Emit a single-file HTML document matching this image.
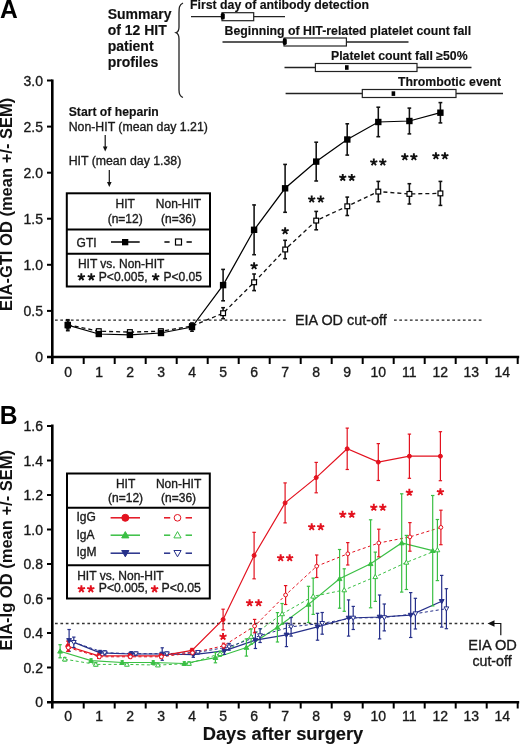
<!DOCTYPE html>
<html><head><meta charset="utf-8"><style>
html,body{margin:0;padding:0;background:#fff;}
svg{display:block;font-family:"Liberation Sans",sans-serif;will-change:transform;}
</style></head><body>
<svg width="520" height="745" viewBox="0 0 520 745" font-family="Liberation Sans, sans-serif">
<rect width="520" height="745" fill="#fff"/>
<text transform="translate(0,17.9) scale(1,1.07)" font-size="24.6" font-weight="bold" fill="#000">A</text>
<text x="107.7" y="18.6" font-size="14" font-weight="bold" text-anchor="start" fill="#111" stroke="#111" stroke-width="0.15" >Summary</text>
<text x="107.7" y="34.6" font-size="14" font-weight="bold" text-anchor="start" fill="#111" stroke="#111" stroke-width="0.15" >of 12 HIT</text>
<text x="107.7" y="50.6" font-size="14" font-weight="bold" text-anchor="start" fill="#111" stroke="#111" stroke-width="0.15" >patient</text>
<text x="107.7" y="66.6" font-size="14" font-weight="bold" text-anchor="start" fill="#111" stroke="#111" stroke-width="0.15" >profiles</text>
<path d="M183,3 C179,5 179,8 179,13 L179,27 C179,30 178,32 176,32.7 C178,33.5 179,35 179,39 L179,90 C179,94 180,96.5 183,97.5" fill="none" stroke="#222" stroke-width="1.3"/>
<text x="190.0" y="9.2" font-size="12.3" font-weight="bold" text-anchor="start" fill="#111" stroke="#111" stroke-width="0.15" >First day of antibody detection</text>
<line x1="191.0" y1="16.7" x2="285.0" y2="16.7" stroke="#222" stroke-width="1.3" />
<rect x="222.0" y="12.7" width="31.7" height="8" fill="#fff" stroke="#222" stroke-width="1.2"/>
<text x="224.5" y="35.0" font-size="12.3" font-weight="bold" text-anchor="start" fill="#111" stroke="#111" stroke-width="0.15" >Beginning of HIT-related platelet count fall</text>
<line x1="222.5" y1="42.0" x2="408.5" y2="42.0" stroke="#222" stroke-width="1.3" />
<rect x="284.0" y="38.0" width="62.4" height="8" fill="#fff" stroke="#222" stroke-width="1.2"/>
<text x="331.0" y="60.4" font-size="12.3" font-weight="bold" text-anchor="start" fill="#111" stroke="#111" stroke-width="0.15" >Platelet count fall &#8805;50%</text>
<line x1="284.5" y1="67.5" x2="471.5" y2="67.5" stroke="#222" stroke-width="1.3" />
<rect x="315.4" y="63.5" width="101.6" height="8" fill="#fff" stroke="#222" stroke-width="1.2"/>
<text x="398.0" y="86.3" font-size="12.3" font-weight="bold" text-anchor="start" fill="#111" stroke="#111" stroke-width="0.15" >Thrombotic event</text>
<line x1="285.6" y1="93.5" x2="503.0" y2="93.5" stroke="#222" stroke-width="1.3" />
<rect x="362.3" y="89.5" width="93.7" height="8" fill="#fff" stroke="#222" stroke-width="1.2"/>
<rect x="220.8" y="12.9" width="4" height="6.6" rx="1.6" fill="#000"/>
<rect x="282.8" y="38.3" width="4" height="6.6" rx="1.6" fill="#000"/>
<rect x="345" y="65.2" width="3.6" height="4.6" fill="#000"/>
<rect x="391.6" y="91.3" width="3.6" height="4.6" fill="#000"/>
<line x1="52.3" y1="79.5" x2="52.3" y2="364.0" stroke="#000" stroke-width="2.6" />
<line x1="47.0" y1="357.0" x2="519.2" y2="357.0" stroke="#000" stroke-width="2.4" />
<line x1="47.0" y1="357.0" x2="52.3" y2="357.0" stroke="#000" stroke-width="2" />
<text x="43.0" y="362.0" font-size="14" font-weight="normal" text-anchor="end" fill="#1a1a1a" stroke="#1a1a1a" stroke-width="0.35" >0</text>
<line x1="47.0" y1="310.9" x2="52.3" y2="310.9" stroke="#000" stroke-width="2" />
<text x="43.0" y="315.9" font-size="14" font-weight="normal" text-anchor="end" fill="#1a1a1a" stroke="#1a1a1a" stroke-width="0.35" >0.5</text>
<line x1="47.0" y1="264.8" x2="52.3" y2="264.8" stroke="#000" stroke-width="2" />
<text x="43.0" y="269.8" font-size="14" font-weight="normal" text-anchor="end" fill="#1a1a1a" stroke="#1a1a1a" stroke-width="0.35" >1.0</text>
<line x1="47.0" y1="218.7" x2="52.3" y2="218.7" stroke="#000" stroke-width="2" />
<text x="43.0" y="223.7" font-size="14" font-weight="normal" text-anchor="end" fill="#1a1a1a" stroke="#1a1a1a" stroke-width="0.35" >1.5</text>
<line x1="47.0" y1="172.7" x2="52.3" y2="172.7" stroke="#000" stroke-width="2" />
<text x="43.0" y="177.7" font-size="14" font-weight="normal" text-anchor="end" fill="#1a1a1a" stroke="#1a1a1a" stroke-width="0.35" >2.0</text>
<line x1="47.0" y1="126.6" x2="52.3" y2="126.6" stroke="#000" stroke-width="2" />
<text x="43.0" y="131.6" font-size="14" font-weight="normal" text-anchor="end" fill="#1a1a1a" stroke="#1a1a1a" stroke-width="0.35" >2.5</text>
<line x1="47.0" y1="80.5" x2="52.3" y2="80.5" stroke="#000" stroke-width="2" />
<text x="43.0" y="85.5" font-size="14" font-weight="normal" text-anchor="end" fill="#1a1a1a" stroke="#1a1a1a" stroke-width="0.35" >3.0</text>
<line x1="83.7" y1="357.0" x2="83.7" y2="364.0" stroke="#000" stroke-width="2" />
<line x1="114.7" y1="357.0" x2="114.7" y2="364.0" stroke="#000" stroke-width="2" />
<line x1="145.7" y1="357.0" x2="145.7" y2="364.0" stroke="#000" stroke-width="2" />
<line x1="176.7" y1="357.0" x2="176.7" y2="364.0" stroke="#000" stroke-width="2" />
<line x1="207.7" y1="357.0" x2="207.7" y2="364.0" stroke="#000" stroke-width="2" />
<line x1="238.7" y1="357.0" x2="238.7" y2="364.0" stroke="#000" stroke-width="2" />
<line x1="269.7" y1="357.0" x2="269.7" y2="364.0" stroke="#000" stroke-width="2" />
<line x1="300.7" y1="357.0" x2="300.7" y2="364.0" stroke="#000" stroke-width="2" />
<line x1="331.7" y1="357.0" x2="331.7" y2="364.0" stroke="#000" stroke-width="2" />
<line x1="362.7" y1="357.0" x2="362.7" y2="364.0" stroke="#000" stroke-width="2" />
<line x1="393.7" y1="357.0" x2="393.7" y2="364.0" stroke="#000" stroke-width="2" />
<line x1="424.7" y1="357.0" x2="424.7" y2="364.0" stroke="#000" stroke-width="2" />
<line x1="455.7" y1="357.0" x2="455.7" y2="364.0" stroke="#000" stroke-width="2" />
<line x1="486.7" y1="357.0" x2="486.7" y2="364.0" stroke="#000" stroke-width="2" />
<line x1="517.7" y1="357.0" x2="517.7" y2="364.0" stroke="#000" stroke-width="2" />
<text x="68.2" y="377.0" font-size="14" font-weight="normal" text-anchor="middle" fill="#1a1a1a" stroke="#1a1a1a" stroke-width="0.35" >0</text>
<text x="99.2" y="377.0" font-size="14" font-weight="normal" text-anchor="middle" fill="#1a1a1a" stroke="#1a1a1a" stroke-width="0.35" >1</text>
<text x="130.2" y="377.0" font-size="14" font-weight="normal" text-anchor="middle" fill="#1a1a1a" stroke="#1a1a1a" stroke-width="0.35" >2</text>
<text x="161.2" y="377.0" font-size="14" font-weight="normal" text-anchor="middle" fill="#1a1a1a" stroke="#1a1a1a" stroke-width="0.35" >3</text>
<text x="192.2" y="377.0" font-size="14" font-weight="normal" text-anchor="middle" fill="#1a1a1a" stroke="#1a1a1a" stroke-width="0.35" >4</text>
<text x="223.2" y="377.0" font-size="14" font-weight="normal" text-anchor="middle" fill="#1a1a1a" stroke="#1a1a1a" stroke-width="0.35" >5</text>
<text x="254.2" y="377.0" font-size="14" font-weight="normal" text-anchor="middle" fill="#1a1a1a" stroke="#1a1a1a" stroke-width="0.35" >6</text>
<text x="285.2" y="377.0" font-size="14" font-weight="normal" text-anchor="middle" fill="#1a1a1a" stroke="#1a1a1a" stroke-width="0.35" >7</text>
<text x="316.2" y="377.0" font-size="14" font-weight="normal" text-anchor="middle" fill="#1a1a1a" stroke="#1a1a1a" stroke-width="0.35" >8</text>
<text x="347.2" y="377.0" font-size="14" font-weight="normal" text-anchor="middle" fill="#1a1a1a" stroke="#1a1a1a" stroke-width="0.35" >9</text>
<text x="378.2" y="377.0" font-size="14" font-weight="normal" text-anchor="middle" fill="#1a1a1a" stroke="#1a1a1a" stroke-width="0.35" >10</text>
<text x="409.2" y="377.0" font-size="14" font-weight="normal" text-anchor="middle" fill="#1a1a1a" stroke="#1a1a1a" stroke-width="0.35" >11</text>
<text x="440.2" y="377.0" font-size="14" font-weight="normal" text-anchor="middle" fill="#1a1a1a" stroke="#1a1a1a" stroke-width="0.35" >12</text>
<text x="471.2" y="377.0" font-size="14" font-weight="normal" text-anchor="middle" fill="#1a1a1a" stroke="#1a1a1a" stroke-width="0.35" >13</text>
<text x="502.2" y="377.0" font-size="14" font-weight="normal" text-anchor="middle" fill="#1a1a1a" stroke="#1a1a1a" stroke-width="0.35" >14</text>
<text transform="translate(12.1,204.4) rotate(-90) scale(1.02,1)" font-size="16.2" font-weight="bold" text-anchor="middle" fill="#111">EIA-GTI OD (mean +/- SEM)</text>
<line x1="55.0" y1="320.1" x2="288.0" y2="320.1" stroke="#222" stroke-width="1.4" stroke-dasharray="2.7 2.6"/>
<line x1="394.0" y1="320.1" x2="484.0" y2="320.1" stroke="#222" stroke-width="1.4" stroke-dasharray="2.7 2.6"/>
<text x="295.0" y="325.3" font-size="14.4" font-weight="normal" text-anchor="start" fill="#1a1a1a" stroke="#1a1a1a" stroke-width="0.35" >EIA OD cut-off</text>
<text x="68.7" y="116.0" font-size="12.2" font-weight="bold" text-anchor="start" fill="#111" stroke="#111" stroke-width="0.15" >Start of heparin</text>
<text x="68.7" y="131.2" font-size="12.3" font-weight="normal" text-anchor="start" fill="#1a1a1a" stroke="#1a1a1a" stroke-width="0.35" >Non-HIT (mean day 1.21)</text>
<text x="68.7" y="165.2" font-size="12.3" font-weight="normal" text-anchor="start" fill="#1a1a1a" stroke="#1a1a1a" stroke-width="0.35" >HIT (mean day 1.38)</text>
<line x1="105.2" y1="135.0" x2="105.2" y2="148.5" stroke="#111" stroke-width="1.2" />
<path d="M102.9,146.5 L107.5,146.5 L105.2,151.5Z" fill="#111"/>
<line x1="109.3" y1="170.0" x2="109.3" y2="184.0" stroke="#111" stroke-width="1.2" />
<path d="M107.0,182.0 L111.6,182.0 L109.3,187.0Z" fill="#111"/>
<rect x="66.8" y="193.3" width="143.2" height="93.2" fill="#fff" stroke="#000" stroke-width="2"/>
<line x1="66.8" y1="229.4" x2="210.0" y2="229.4" stroke="#000" stroke-width="2" />
<line x1="66.8" y1="253.7" x2="210.0" y2="253.7" stroke="#000" stroke-width="2" />
<text x="125.2" y="208.0" font-size="12" font-weight="normal" text-anchor="middle" fill="#1a1a1a" stroke="#1a1a1a" stroke-width="0.35" >HIT</text>
<text x="125.2" y="223.0" font-size="12" font-weight="normal" text-anchor="middle" fill="#1a1a1a" stroke="#1a1a1a" stroke-width="0.35" >(n=12)</text>
<text x="178.5" y="208.0" font-size="12" font-weight="normal" text-anchor="middle" fill="#1a1a1a" stroke="#1a1a1a" stroke-width="0.35" >Non-HIT</text>
<text x="178.5" y="223.0" font-size="12" font-weight="normal" text-anchor="middle" fill="#1a1a1a" stroke="#1a1a1a" stroke-width="0.35" >(n=36)</text>
<text x="76.6" y="247.0" font-size="12" font-weight="normal" text-anchor="start" fill="#1a1a1a" stroke="#1a1a1a" stroke-width="0.35" >GTI</text>
<line x1="111.0" y1="242.0" x2="139.7" y2="242.0" stroke="#000" stroke-width="1.5" />
<rect x="122" y="239" width="6.3" height="6.3" fill="#000"/>
<line x1="164.4" y1="242.0" x2="169.6" y2="242.0" stroke="#000" stroke-width="1.5" />
<line x1="186.5" y1="242.0" x2="191.8" y2="242.0" stroke="#000" stroke-width="1.5" />
<rect x="175.5" y="239" width="6" height="6" fill="#fff" stroke="#000" stroke-width="1.2"/>
<text x="77.9" y="268.0" font-size="12" font-weight="normal" text-anchor="start" fill="#1a1a1a" stroke="#1a1a1a" stroke-width="0.35" >HIT vs. Non-HIT</text>
<path d="M81.30,277.10L81.30,273.30M81.30,277.10L84.91,275.93M81.30,277.10L83.53,280.17M81.30,277.10L79.07,280.17M81.30,277.10L77.69,275.93" stroke="#111" stroke-width="1.9" fill="none"/>
<path d="M91.30,277.10L91.30,273.30M91.30,277.10L94.91,275.93M91.30,277.10L93.53,280.17M91.30,277.10L89.07,280.17M91.30,277.10L87.69,275.93" stroke="#111" stroke-width="1.9" fill="none"/>
<text x="98.8" y="281.2" font-size="12.1" font-weight="normal" text-anchor="start" fill="#1a1a1a" stroke="#1a1a1a" stroke-width="0.35" >P&lt;0.005,</text>
<path d="M155.70,277.10L155.70,273.30M155.70,277.10L159.31,275.93M155.70,277.10L157.93,280.17M155.70,277.10L153.47,280.17M155.70,277.10L152.09,275.93" stroke="#111" stroke-width="1.9" fill="none"/>
<text x="163.4" y="281.2" font-size="12.1" font-weight="normal" text-anchor="start" fill="#1a1a1a" stroke="#1a1a1a" stroke-width="0.35" >P&lt;0.05</text>
<polyline points="67.8,324.7 98.8,331.2 129.9,332.1 160.9,331.2 192.0,326.1 223.1,313.2 254.1,282.3 285.1,249.5 316.2,220.6 347.2,206.3 378.3,191.6 409.4,193.9 440.4,193.4" fill="none" stroke="#111" stroke-width="1.3" stroke-dasharray="4 3"/>
<line x1="67.8" y1="320.6" x2="67.8" y2="328.9" stroke="#111" stroke-width="1.55" />
<line x1="65.9" y1="320.6" x2="69.7" y2="320.6" stroke="#111" stroke-width="1.55" />
<line x1="65.9" y1="328.9" x2="69.7" y2="328.9" stroke="#111" stroke-width="1.55" />
<line x1="98.8" y1="329.3" x2="98.8" y2="333.0" stroke="#111" stroke-width="1.55" />
<line x1="96.9" y1="329.3" x2="100.8" y2="329.3" stroke="#111" stroke-width="1.55" />
<line x1="96.9" y1="333.0" x2="100.8" y2="333.0" stroke="#111" stroke-width="1.55" />
<line x1="129.9" y1="330.3" x2="129.9" y2="334.0" stroke="#111" stroke-width="1.55" />
<line x1="128.0" y1="330.3" x2="131.8" y2="330.3" stroke="#111" stroke-width="1.55" />
<line x1="128.0" y1="334.0" x2="131.8" y2="334.0" stroke="#111" stroke-width="1.55" />
<line x1="160.9" y1="329.3" x2="160.9" y2="333.0" stroke="#111" stroke-width="1.55" />
<line x1="159.0" y1="329.3" x2="162.8" y2="329.3" stroke="#111" stroke-width="1.55" />
<line x1="159.0" y1="333.0" x2="162.8" y2="333.0" stroke="#111" stroke-width="1.55" />
<line x1="192.0" y1="324.3" x2="192.0" y2="328.0" stroke="#111" stroke-width="1.55" />
<line x1="190.1" y1="324.3" x2="193.9" y2="324.3" stroke="#111" stroke-width="1.55" />
<line x1="190.1" y1="328.0" x2="193.9" y2="328.0" stroke="#111" stroke-width="1.55" />
<line x1="223.1" y1="307.7" x2="223.1" y2="318.7" stroke="#111" stroke-width="1.55" />
<line x1="221.2" y1="307.7" x2="225.0" y2="307.7" stroke="#111" stroke-width="1.55" />
<line x1="221.2" y1="318.7" x2="225.0" y2="318.7" stroke="#111" stroke-width="1.55" />
<line x1="254.1" y1="274.0" x2="254.1" y2="290.6" stroke="#111" stroke-width="1.55" />
<line x1="252.2" y1="274.0" x2="256.0" y2="274.0" stroke="#111" stroke-width="1.55" />
<line x1="252.2" y1="290.6" x2="256.0" y2="290.6" stroke="#111" stroke-width="1.55" />
<line x1="285.1" y1="240.3" x2="285.1" y2="258.7" stroke="#111" stroke-width="1.55" />
<line x1="283.2" y1="240.3" x2="287.0" y2="240.3" stroke="#111" stroke-width="1.55" />
<line x1="283.2" y1="258.7" x2="287.0" y2="258.7" stroke="#111" stroke-width="1.55" />
<line x1="316.2" y1="211.4" x2="316.2" y2="229.8" stroke="#111" stroke-width="1.55" />
<line x1="314.3" y1="211.4" x2="318.1" y2="211.4" stroke="#111" stroke-width="1.55" />
<line x1="314.3" y1="229.8" x2="318.1" y2="229.8" stroke="#111" stroke-width="1.55" />
<line x1="347.2" y1="197.1" x2="347.2" y2="215.5" stroke="#111" stroke-width="1.55" />
<line x1="345.4" y1="197.1" x2="349.1" y2="197.1" stroke="#111" stroke-width="1.55" />
<line x1="345.4" y1="215.5" x2="349.1" y2="215.5" stroke="#111" stroke-width="1.55" />
<line x1="378.3" y1="181.4" x2="378.3" y2="201.7" stroke="#111" stroke-width="1.55" />
<line x1="376.4" y1="181.4" x2="380.2" y2="181.4" stroke="#111" stroke-width="1.55" />
<line x1="376.4" y1="201.7" x2="380.2" y2="201.7" stroke="#111" stroke-width="1.55" />
<line x1="409.4" y1="183.7" x2="409.4" y2="204.0" stroke="#111" stroke-width="1.55" />
<line x1="407.5" y1="183.7" x2="411.2" y2="183.7" stroke="#111" stroke-width="1.55" />
<line x1="407.5" y1="204.0" x2="411.2" y2="204.0" stroke="#111" stroke-width="1.55" />
<line x1="440.4" y1="181.4" x2="440.4" y2="205.4" stroke="#111" stroke-width="1.55" />
<line x1="438.5" y1="181.4" x2="442.3" y2="181.4" stroke="#111" stroke-width="1.55" />
<line x1="438.5" y1="205.4" x2="442.3" y2="205.4" stroke="#111" stroke-width="1.55" />
<polyline points="67.8,325.2 98.8,334.0 129.9,334.9 160.9,333.0 192.0,327.0 223.1,285.1 254.1,229.8 285.1,188.3 316.2,161.6 347.2,139.5 378.3,122.0 409.4,121.0 440.4,112.7" fill="none" stroke="#000" stroke-width="1.25"/>
<line x1="67.8" y1="319.7" x2="67.8" y2="330.7" stroke="#111" stroke-width="1.55" />
<line x1="65.9" y1="319.7" x2="69.7" y2="319.7" stroke="#111" stroke-width="1.55" />
<line x1="65.9" y1="330.7" x2="69.7" y2="330.7" stroke="#111" stroke-width="1.55" />
<line x1="98.8" y1="332.1" x2="98.8" y2="335.8" stroke="#111" stroke-width="1.55" />
<line x1="96.9" y1="332.1" x2="100.8" y2="332.1" stroke="#111" stroke-width="1.55" />
<line x1="96.9" y1="335.8" x2="100.8" y2="335.8" stroke="#111" stroke-width="1.55" />
<line x1="129.9" y1="333.0" x2="129.9" y2="336.7" stroke="#111" stroke-width="1.55" />
<line x1="128.0" y1="333.0" x2="131.8" y2="333.0" stroke="#111" stroke-width="1.55" />
<line x1="128.0" y1="336.7" x2="131.8" y2="336.7" stroke="#111" stroke-width="1.55" />
<line x1="160.9" y1="331.2" x2="160.9" y2="334.9" stroke="#111" stroke-width="1.55" />
<line x1="159.0" y1="331.2" x2="162.8" y2="331.2" stroke="#111" stroke-width="1.55" />
<line x1="159.0" y1="334.9" x2="162.8" y2="334.9" stroke="#111" stroke-width="1.55" />
<line x1="192.0" y1="322.9" x2="192.0" y2="331.2" stroke="#111" stroke-width="1.55" />
<line x1="190.1" y1="322.9" x2="193.9" y2="322.9" stroke="#111" stroke-width="1.55" />
<line x1="190.1" y1="331.2" x2="193.9" y2="331.2" stroke="#111" stroke-width="1.55" />
<line x1="223.1" y1="269.4" x2="223.1" y2="300.8" stroke="#111" stroke-width="1.55" />
<line x1="221.2" y1="269.4" x2="225.0" y2="269.4" stroke="#111" stroke-width="1.55" />
<line x1="221.2" y1="300.8" x2="225.0" y2="300.8" stroke="#111" stroke-width="1.55" />
<line x1="254.1" y1="204.9" x2="254.1" y2="254.7" stroke="#111" stroke-width="1.55" />
<line x1="252.2" y1="204.9" x2="256.0" y2="204.9" stroke="#111" stroke-width="1.55" />
<line x1="252.2" y1="254.7" x2="256.0" y2="254.7" stroke="#111" stroke-width="1.55" />
<line x1="285.1" y1="164.4" x2="285.1" y2="212.3" stroke="#111" stroke-width="1.55" />
<line x1="283.2" y1="164.4" x2="287.0" y2="164.4" stroke="#111" stroke-width="1.55" />
<line x1="283.2" y1="212.3" x2="287.0" y2="212.3" stroke="#111" stroke-width="1.55" />
<line x1="316.2" y1="142.2" x2="316.2" y2="181.0" stroke="#111" stroke-width="1.55" />
<line x1="314.3" y1="142.2" x2="318.1" y2="142.2" stroke="#111" stroke-width="1.55" />
<line x1="314.3" y1="181.0" x2="318.1" y2="181.0" stroke="#111" stroke-width="1.55" />
<line x1="347.2" y1="123.8" x2="347.2" y2="155.1" stroke="#111" stroke-width="1.55" />
<line x1="345.4" y1="123.8" x2="349.1" y2="123.8" stroke="#111" stroke-width="1.55" />
<line x1="345.4" y1="155.1" x2="349.1" y2="155.1" stroke="#111" stroke-width="1.55" />
<line x1="378.3" y1="107.2" x2="378.3" y2="136.7" stroke="#111" stroke-width="1.55" />
<line x1="376.4" y1="107.2" x2="380.2" y2="107.2" stroke="#111" stroke-width="1.55" />
<line x1="376.4" y1="136.7" x2="380.2" y2="136.7" stroke="#111" stroke-width="1.55" />
<line x1="409.4" y1="108.1" x2="409.4" y2="133.9" stroke="#111" stroke-width="1.55" />
<line x1="407.5" y1="108.1" x2="411.2" y2="108.1" stroke="#111" stroke-width="1.55" />
<line x1="407.5" y1="133.9" x2="411.2" y2="133.9" stroke="#111" stroke-width="1.55" />
<line x1="440.4" y1="102.6" x2="440.4" y2="122.9" stroke="#111" stroke-width="1.55" />
<line x1="438.5" y1="102.6" x2="442.3" y2="102.6" stroke="#111" stroke-width="1.55" />
<line x1="438.5" y1="122.9" x2="442.3" y2="122.9" stroke="#111" stroke-width="1.55" />
<rect x="65.4" y="322.3" width="4.8" height="4.8" fill="#fff" stroke="#000" stroke-width="1.2"/>
<rect x="96.4" y="328.8" width="4.8" height="4.8" fill="#fff" stroke="#000" stroke-width="1.2"/>
<rect x="127.5" y="329.7" width="4.8" height="4.8" fill="#fff" stroke="#000" stroke-width="1.2"/>
<rect x="158.5" y="328.8" width="4.8" height="4.8" fill="#fff" stroke="#000" stroke-width="1.2"/>
<rect x="189.6" y="323.7" width="4.8" height="4.8" fill="#fff" stroke="#000" stroke-width="1.2"/>
<rect x="220.7" y="310.8" width="4.8" height="4.8" fill="#fff" stroke="#000" stroke-width="1.2"/>
<rect x="251.7" y="279.9" width="4.8" height="4.8" fill="#fff" stroke="#000" stroke-width="1.2"/>
<rect x="282.8" y="247.1" width="4.8" height="4.8" fill="#fff" stroke="#000" stroke-width="1.2"/>
<rect x="313.8" y="218.2" width="4.8" height="4.8" fill="#fff" stroke="#000" stroke-width="1.2"/>
<rect x="344.9" y="203.9" width="4.8" height="4.8" fill="#fff" stroke="#000" stroke-width="1.2"/>
<rect x="375.9" y="189.2" width="4.8" height="4.8" fill="#fff" stroke="#000" stroke-width="1.2"/>
<rect x="407.0" y="191.5" width="4.8" height="4.8" fill="#fff" stroke="#000" stroke-width="1.2"/>
<rect x="438.0" y="191.0" width="4.8" height="4.8" fill="#fff" stroke="#000" stroke-width="1.2"/>
<rect x="64.6" y="322.0" width="6.4" height="6.4" fill="#000"/>
<rect x="95.6" y="330.8" width="6.4" height="6.4" fill="#000"/>
<rect x="126.7" y="331.7" width="6.4" height="6.4" fill="#000"/>
<rect x="157.8" y="329.8" width="6.4" height="6.4" fill="#000"/>
<rect x="188.8" y="323.8" width="6.4" height="6.4" fill="#000"/>
<rect x="219.9" y="281.9" width="6.4" height="6.4" fill="#000"/>
<rect x="250.9" y="226.6" width="6.4" height="6.4" fill="#000"/>
<rect x="281.9" y="185.1" width="6.4" height="6.4" fill="#000"/>
<rect x="313.0" y="158.4" width="6.4" height="6.4" fill="#000"/>
<rect x="344.1" y="136.3" width="6.4" height="6.4" fill="#000"/>
<rect x="375.1" y="118.8" width="6.4" height="6.4" fill="#000"/>
<rect x="406.2" y="117.8" width="6.4" height="6.4" fill="#000"/>
<rect x="437.2" y="109.5" width="6.4" height="6.4" fill="#000"/>
<path d="M254.10,266.00L254.10,262.30M254.10,266.00L257.62,264.86M254.10,266.00L256.27,268.99M254.10,266.00L251.93,268.99M254.10,266.00L250.58,264.86" stroke="#111" stroke-width="1.9" fill="none"/>
<path d="M285.15,231.00L285.15,227.30M285.15,231.00L288.67,229.86M285.15,231.00L287.32,233.99M285.15,231.00L282.98,233.99M285.15,231.00L281.63,229.86" stroke="#111" stroke-width="1.9" fill="none"/>
<path d="M311.70,199.30L311.70,195.60M311.70,199.30L315.22,198.16M311.70,199.30L313.87,202.29M311.70,199.30L309.53,202.29M311.70,199.30L308.18,198.16" stroke="#111" stroke-width="1.9" fill="none"/>
<path d="M320.70,199.30L320.70,195.60M320.70,199.30L324.22,198.16M320.70,199.30L322.87,202.29M320.70,199.30L318.53,202.29M320.70,199.30L317.18,198.16" stroke="#111" stroke-width="1.9" fill="none"/>
<path d="M342.75,177.60L342.75,173.90M342.75,177.60L346.27,176.46M342.75,177.60L344.92,180.59M342.75,177.60L340.58,180.59M342.75,177.60L339.23,176.46" stroke="#111" stroke-width="1.9" fill="none"/>
<path d="M351.75,177.60L351.75,173.90M351.75,177.60L355.27,176.46M351.75,177.60L353.92,180.59M351.75,177.60L349.58,180.59M351.75,177.60L348.23,176.46" stroke="#111" stroke-width="1.9" fill="none"/>
<path d="M373.80,162.30L373.80,158.60M373.80,162.30L377.32,161.16M373.80,162.30L375.97,165.29M373.80,162.30L371.63,165.29M373.80,162.30L370.28,161.16" stroke="#111" stroke-width="1.9" fill="none"/>
<path d="M382.80,162.30L382.80,158.60M382.80,162.30L386.32,161.16M382.80,162.30L384.97,165.29M382.80,162.30L380.63,165.29M382.80,162.30L379.28,161.16" stroke="#111" stroke-width="1.9" fill="none"/>
<path d="M404.85,157.00L404.85,153.30M404.85,157.00L408.37,155.86M404.85,157.00L407.02,159.99M404.85,157.00L402.68,159.99M404.85,157.00L401.33,155.86" stroke="#111" stroke-width="1.9" fill="none"/>
<path d="M413.85,157.00L413.85,153.30M413.85,157.00L417.37,155.86M413.85,157.00L416.02,159.99M413.85,157.00L411.68,159.99M413.85,157.00L410.33,155.86" stroke="#111" stroke-width="1.9" fill="none"/>
<path d="M435.90,156.00L435.90,152.30M435.90,156.00L439.42,154.86M435.90,156.00L438.07,158.99M435.90,156.00L433.73,158.99M435.90,156.00L432.38,154.86" stroke="#111" stroke-width="1.9" fill="none"/>
<path d="M444.90,156.00L444.90,152.30M444.90,156.00L448.42,154.86M444.90,156.00L447.07,158.99M444.90,156.00L442.73,158.99M444.90,156.00L441.38,154.86" stroke="#111" stroke-width="1.9" fill="none"/>
<text transform="translate(-0.3,424) scale(1,1.07)" font-size="24.6" font-weight="bold" fill="#000">B</text>
<line x1="52.3" y1="424.5" x2="52.3" y2="708.5" stroke="#000" stroke-width="2.6" />
<line x1="47.0" y1="702.3" x2="519.2" y2="702.3" stroke="#000" stroke-width="2.4" />
<line x1="47.0" y1="702.0" x2="52.3" y2="702.0" stroke="#000" stroke-width="2" />
<text x="43.0" y="707.0" font-size="14" font-weight="normal" text-anchor="end" fill="#1a1a1a" stroke="#1a1a1a" stroke-width="0.35" >0</text>
<line x1="47.0" y1="667.5" x2="52.3" y2="667.5" stroke="#000" stroke-width="2" />
<text x="43.0" y="672.5" font-size="14" font-weight="normal" text-anchor="end" fill="#1a1a1a" stroke="#1a1a1a" stroke-width="0.35" >0.2</text>
<line x1="47.0" y1="633.0" x2="52.3" y2="633.0" stroke="#000" stroke-width="2" />
<text x="43.0" y="638.0" font-size="14" font-weight="normal" text-anchor="end" fill="#1a1a1a" stroke="#1a1a1a" stroke-width="0.35" >0.4</text>
<line x1="47.0" y1="598.5" x2="52.3" y2="598.5" stroke="#000" stroke-width="2" />
<text x="43.0" y="603.5" font-size="14" font-weight="normal" text-anchor="end" fill="#1a1a1a" stroke="#1a1a1a" stroke-width="0.35" >0.6</text>
<line x1="47.0" y1="564.0" x2="52.3" y2="564.0" stroke="#000" stroke-width="2" />
<text x="43.0" y="569.0" font-size="14" font-weight="normal" text-anchor="end" fill="#1a1a1a" stroke="#1a1a1a" stroke-width="0.35" >0.8</text>
<line x1="47.0" y1="529.5" x2="52.3" y2="529.5" stroke="#000" stroke-width="2" />
<text x="43.0" y="534.5" font-size="14" font-weight="normal" text-anchor="end" fill="#1a1a1a" stroke="#1a1a1a" stroke-width="0.35" >1.0</text>
<line x1="47.0" y1="495.0" x2="52.3" y2="495.0" stroke="#000" stroke-width="2" />
<text x="43.0" y="500.0" font-size="14" font-weight="normal" text-anchor="end" fill="#1a1a1a" stroke="#1a1a1a" stroke-width="0.35" >1.2</text>
<line x1="47.0" y1="460.5" x2="52.3" y2="460.5" stroke="#000" stroke-width="2" />
<text x="43.0" y="465.5" font-size="14" font-weight="normal" text-anchor="end" fill="#1a1a1a" stroke="#1a1a1a" stroke-width="0.35" >1.4</text>
<line x1="47.0" y1="426.0" x2="52.3" y2="426.0" stroke="#000" stroke-width="2" />
<text x="43.0" y="431.0" font-size="14" font-weight="normal" text-anchor="end" fill="#1a1a1a" stroke="#1a1a1a" stroke-width="0.35" >1.6</text>
<line x1="83.7" y1="702.3" x2="83.7" y2="708.5" stroke="#000" stroke-width="2" />
<line x1="114.7" y1="702.3" x2="114.7" y2="708.5" stroke="#000" stroke-width="2" />
<line x1="145.7" y1="702.3" x2="145.7" y2="708.5" stroke="#000" stroke-width="2" />
<line x1="176.7" y1="702.3" x2="176.7" y2="708.5" stroke="#000" stroke-width="2" />
<line x1="207.7" y1="702.3" x2="207.7" y2="708.5" stroke="#000" stroke-width="2" />
<line x1="238.7" y1="702.3" x2="238.7" y2="708.5" stroke="#000" stroke-width="2" />
<line x1="269.7" y1="702.3" x2="269.7" y2="708.5" stroke="#000" stroke-width="2" />
<line x1="300.7" y1="702.3" x2="300.7" y2="708.5" stroke="#000" stroke-width="2" />
<line x1="331.7" y1="702.3" x2="331.7" y2="708.5" stroke="#000" stroke-width="2" />
<line x1="362.7" y1="702.3" x2="362.7" y2="708.5" stroke="#000" stroke-width="2" />
<line x1="393.7" y1="702.3" x2="393.7" y2="708.5" stroke="#000" stroke-width="2" />
<line x1="424.7" y1="702.3" x2="424.7" y2="708.5" stroke="#000" stroke-width="2" />
<line x1="455.7" y1="702.3" x2="455.7" y2="708.5" stroke="#000" stroke-width="2" />
<line x1="486.7" y1="702.3" x2="486.7" y2="708.5" stroke="#000" stroke-width="2" />
<line x1="517.7" y1="702.3" x2="517.7" y2="708.5" stroke="#000" stroke-width="2" />
<text x="68.2" y="721.0" font-size="14" font-weight="normal" text-anchor="middle" fill="#1a1a1a" stroke="#1a1a1a" stroke-width="0.35" >0</text>
<text x="99.2" y="721.0" font-size="14" font-weight="normal" text-anchor="middle" fill="#1a1a1a" stroke="#1a1a1a" stroke-width="0.35" >1</text>
<text x="130.2" y="721.0" font-size="14" font-weight="normal" text-anchor="middle" fill="#1a1a1a" stroke="#1a1a1a" stroke-width="0.35" >2</text>
<text x="161.2" y="721.0" font-size="14" font-weight="normal" text-anchor="middle" fill="#1a1a1a" stroke="#1a1a1a" stroke-width="0.35" >3</text>
<text x="192.2" y="721.0" font-size="14" font-weight="normal" text-anchor="middle" fill="#1a1a1a" stroke="#1a1a1a" stroke-width="0.35" >4</text>
<text x="223.2" y="721.0" font-size="14" font-weight="normal" text-anchor="middle" fill="#1a1a1a" stroke="#1a1a1a" stroke-width="0.35" >5</text>
<text x="254.2" y="721.0" font-size="14" font-weight="normal" text-anchor="middle" fill="#1a1a1a" stroke="#1a1a1a" stroke-width="0.35" >6</text>
<text x="285.2" y="721.0" font-size="14" font-weight="normal" text-anchor="middle" fill="#1a1a1a" stroke="#1a1a1a" stroke-width="0.35" >7</text>
<text x="316.2" y="721.0" font-size="14" font-weight="normal" text-anchor="middle" fill="#1a1a1a" stroke="#1a1a1a" stroke-width="0.35" >8</text>
<text x="347.2" y="721.0" font-size="14" font-weight="normal" text-anchor="middle" fill="#1a1a1a" stroke="#1a1a1a" stroke-width="0.35" >9</text>
<text x="378.2" y="721.0" font-size="14" font-weight="normal" text-anchor="middle" fill="#1a1a1a" stroke="#1a1a1a" stroke-width="0.35" >10</text>
<text x="409.2" y="721.0" font-size="14" font-weight="normal" text-anchor="middle" fill="#1a1a1a" stroke="#1a1a1a" stroke-width="0.35" >11</text>
<text x="440.2" y="721.0" font-size="14" font-weight="normal" text-anchor="middle" fill="#1a1a1a" stroke="#1a1a1a" stroke-width="0.35" >12</text>
<text x="471.2" y="721.0" font-size="14" font-weight="normal" text-anchor="middle" fill="#1a1a1a" stroke="#1a1a1a" stroke-width="0.35" >13</text>
<text x="502.2" y="721.0" font-size="14" font-weight="normal" text-anchor="middle" fill="#1a1a1a" stroke="#1a1a1a" stroke-width="0.35" >14</text>
<text transform="translate(12.1,550.2) rotate(-90) scale(1.02,1)" font-size="16.2" font-weight="bold" text-anchor="middle" fill="#111">EIA-Ig OD (mean +/- SEM)</text>
<text x="283.0" y="740.4" font-size="18.3" font-weight="bold" text-anchor="middle" fill="#111" stroke="#111" stroke-width="0.15" >Days after surgery</text>
<line x1="55.0" y1="623.5" x2="484.0" y2="623.5" stroke="#333" stroke-width="1.7" stroke-dasharray="2.7 2.7"/>
<path d="M487.5,623.5 L494.5,620.2 L494.5,626.8Z" fill="#111"/>
<polyline points="492,623.5 500.8,623.5 500.8,635.2" fill="none" stroke="#111" stroke-width="1.2"/>
<text x="492.6" y="649.5" font-size="14.6" font-weight="normal" text-anchor="middle" fill="#1a1a1a" stroke="#1a1a1a" stroke-width="0.35" >EIA OD</text>
<text x="492.0" y="666.0" font-size="14.2" font-weight="normal" text-anchor="middle" fill="#1a1a1a" stroke="#1a1a1a" stroke-width="0.35" >cut-off</text>
<polyline points="60.1,651.3 91.1,660.6 122.2,662.5 153.2,662.5 184.3,663.5 215.4,657.7 246.4,647.5 277.4,627.3 308.5,604.4 339.6,578.8 370.6,563.8 401.7,543.0 432.7,550.7" fill="none" stroke="#3abf44" stroke-width="1.2" />
<polyline points="64.8,659.2 95.8,664.4 126.9,664.4 157.9,665.1 189.0,663.5 220.1,653.7 251.1,636.6 282.1,613.9 313.2,596.3 344.2,590.0 375.3,576.8 406.4,562.4 437.4,550.0" fill="none" stroke="#3abf44" stroke-width="1.0" stroke-dasharray="3 2.5"/>
<polyline points="69.1,640.4 100.1,652.8 131.2,654.0 162.2,654.0 193.3,654.7 224.4,650.9 255.4,640.2 286.4,634.9 317.5,626.8 348.6,618.0 379.6,617.0 410.7,615.1 441.7,601.3" fill="none" stroke="#26308a" stroke-width="1.2" />
<polyline points="73.8,642.3 104.8,652.8 135.9,653.7 166.9,653.7 198.0,652.3 229.1,646.8 260.1,635.6 291.1,626.8 322.2,623.3 353.2,618.0 384.3,617.5 415.4,613.7 446.4,608.7" fill="none" stroke="#26308a" stroke-width="1.0" stroke-dasharray="3 2.5"/>
<polyline points="67.8,646.3 98.8,655.8 129.9,655.8 160.9,655.8 192.0,650.4 223.1,619.5 254.1,555.5 285.1,502.9 316.2,477.6 347.2,448.8 378.3,462.1 409.4,456.2 440.4,456.2" fill="none" stroke="#e3121f" stroke-width="1.2" />
<polyline points="68.3,647.7 99.3,656.8 130.4,656.8 161.4,656.8 192.5,652.8 223.6,645.8 254.6,626.1 285.6,595.0 316.7,566.2 347.8,553.8 378.8,543.0 409.9,536.9 440.9,527.4" fill="none" stroke="#e3121f" stroke-width="1.0" stroke-dasharray="3 2.5"/>
<line x1="60.1" y1="644.7" x2="60.1" y2="657.8" stroke="#3abf44" stroke-width="1.2" />
<line x1="58.4" y1="644.7" x2="61.8" y2="644.7" stroke="#3abf44" stroke-width="1.2" />
<line x1="58.4" y1="657.8" x2="61.8" y2="657.8" stroke="#3abf44" stroke-width="1.2" />
<line x1="91.1" y1="658.9" x2="91.1" y2="662.3" stroke="#3abf44" stroke-width="1.2" />
<line x1="89.4" y1="658.9" x2="92.8" y2="658.9" stroke="#3abf44" stroke-width="1.2" />
<line x1="89.4" y1="662.3" x2="92.8" y2="662.3" stroke="#3abf44" stroke-width="1.2" />
<line x1="122.2" y1="660.8" x2="122.2" y2="664.2" stroke="#3abf44" stroke-width="1.2" />
<line x1="120.5" y1="660.8" x2="123.9" y2="660.8" stroke="#3abf44" stroke-width="1.2" />
<line x1="120.5" y1="664.2" x2="123.9" y2="664.2" stroke="#3abf44" stroke-width="1.2" />
<line x1="153.2" y1="660.8" x2="153.2" y2="664.2" stroke="#3abf44" stroke-width="1.2" />
<line x1="151.6" y1="660.8" x2="154.9" y2="660.8" stroke="#3abf44" stroke-width="1.2" />
<line x1="151.6" y1="664.2" x2="154.9" y2="664.2" stroke="#3abf44" stroke-width="1.2" />
<line x1="184.3" y1="661.8" x2="184.3" y2="665.3" stroke="#3abf44" stroke-width="1.2" />
<line x1="182.6" y1="661.8" x2="186.0" y2="661.8" stroke="#3abf44" stroke-width="1.2" />
<line x1="182.6" y1="665.3" x2="186.0" y2="665.3" stroke="#3abf44" stroke-width="1.2" />
<line x1="215.4" y1="652.5" x2="215.4" y2="662.8" stroke="#3abf44" stroke-width="1.2" />
<line x1="213.7" y1="652.5" x2="217.1" y2="652.5" stroke="#3abf44" stroke-width="1.2" />
<line x1="213.7" y1="662.8" x2="217.1" y2="662.8" stroke="#3abf44" stroke-width="1.2" />
<line x1="246.4" y1="638.9" x2="246.4" y2="656.1" stroke="#3abf44" stroke-width="1.2" />
<line x1="244.7" y1="638.9" x2="248.1" y2="638.9" stroke="#3abf44" stroke-width="1.2" />
<line x1="244.7" y1="656.1" x2="248.1" y2="656.1" stroke="#3abf44" stroke-width="1.2" />
<line x1="277.4" y1="612.6" x2="277.4" y2="642.0" stroke="#3abf44" stroke-width="1.2" />
<line x1="275.8" y1="612.6" x2="279.1" y2="612.6" stroke="#3abf44" stroke-width="1.2" />
<line x1="275.8" y1="642.0" x2="279.1" y2="642.0" stroke="#3abf44" stroke-width="1.2" />
<line x1="308.5" y1="586.3" x2="308.5" y2="622.5" stroke="#3abf44" stroke-width="1.2" />
<line x1="306.8" y1="586.3" x2="310.2" y2="586.3" stroke="#3abf44" stroke-width="1.2" />
<line x1="306.8" y1="622.5" x2="310.2" y2="622.5" stroke="#3abf44" stroke-width="1.2" />
<line x1="339.6" y1="549.5" x2="339.6" y2="608.2" stroke="#3abf44" stroke-width="1.2" />
<line x1="337.9" y1="549.5" x2="341.2" y2="549.5" stroke="#3abf44" stroke-width="1.2" />
<line x1="337.9" y1="608.2" x2="341.2" y2="608.2" stroke="#3abf44" stroke-width="1.2" />
<line x1="370.6" y1="519.8" x2="370.6" y2="607.8" stroke="#3abf44" stroke-width="1.2" />
<line x1="368.9" y1="519.8" x2="372.3" y2="519.8" stroke="#3abf44" stroke-width="1.2" />
<line x1="368.9" y1="607.8" x2="372.3" y2="607.8" stroke="#3abf44" stroke-width="1.2" />
<line x1="401.7" y1="493.8" x2="401.7" y2="592.1" stroke="#3abf44" stroke-width="1.2" />
<line x1="400.0" y1="493.8" x2="403.4" y2="493.8" stroke="#3abf44" stroke-width="1.2" />
<line x1="400.0" y1="592.1" x2="403.4" y2="592.1" stroke="#3abf44" stroke-width="1.2" />
<line x1="432.7" y1="495.5" x2="432.7" y2="605.9" stroke="#3abf44" stroke-width="1.2" />
<line x1="431.0" y1="495.5" x2="434.4" y2="495.5" stroke="#3abf44" stroke-width="1.2" />
<line x1="431.0" y1="605.9" x2="434.4" y2="605.9" stroke="#3abf44" stroke-width="1.2" />
<line x1="64.8" y1="657.5" x2="64.8" y2="660.9" stroke="#3abf44" stroke-width="1.2" />
<line x1="63.1" y1="657.5" x2="66.5" y2="657.5" stroke="#3abf44" stroke-width="1.2" />
<line x1="63.1" y1="660.9" x2="66.5" y2="660.9" stroke="#3abf44" stroke-width="1.2" />
<line x1="95.8" y1="662.7" x2="95.8" y2="666.1" stroke="#3abf44" stroke-width="1.2" />
<line x1="94.1" y1="662.7" x2="97.5" y2="662.7" stroke="#3abf44" stroke-width="1.2" />
<line x1="94.1" y1="666.1" x2="97.5" y2="666.1" stroke="#3abf44" stroke-width="1.2" />
<line x1="126.9" y1="663.0" x2="126.9" y2="665.8" stroke="#3abf44" stroke-width="1.2" />
<line x1="125.2" y1="663.0" x2="128.6" y2="663.0" stroke="#3abf44" stroke-width="1.2" />
<line x1="125.2" y1="665.8" x2="128.6" y2="665.8" stroke="#3abf44" stroke-width="1.2" />
<line x1="157.9" y1="663.7" x2="157.9" y2="666.5" stroke="#3abf44" stroke-width="1.2" />
<line x1="156.2" y1="663.7" x2="159.6" y2="663.7" stroke="#3abf44" stroke-width="1.2" />
<line x1="156.2" y1="666.5" x2="159.6" y2="666.5" stroke="#3abf44" stroke-width="1.2" />
<line x1="189.0" y1="661.8" x2="189.0" y2="665.3" stroke="#3abf44" stroke-width="1.2" />
<line x1="187.3" y1="661.8" x2="190.7" y2="661.8" stroke="#3abf44" stroke-width="1.2" />
<line x1="187.3" y1="665.3" x2="190.7" y2="665.3" stroke="#3abf44" stroke-width="1.2" />
<line x1="220.1" y1="651.1" x2="220.1" y2="656.3" stroke="#3abf44" stroke-width="1.2" />
<line x1="218.4" y1="651.1" x2="221.8" y2="651.1" stroke="#3abf44" stroke-width="1.2" />
<line x1="218.4" y1="656.3" x2="221.8" y2="656.3" stroke="#3abf44" stroke-width="1.2" />
<line x1="251.1" y1="628.9" x2="251.1" y2="644.4" stroke="#3abf44" stroke-width="1.2" />
<line x1="249.4" y1="628.9" x2="252.8" y2="628.9" stroke="#3abf44" stroke-width="1.2" />
<line x1="249.4" y1="644.4" x2="252.8" y2="644.4" stroke="#3abf44" stroke-width="1.2" />
<line x1="282.1" y1="603.5" x2="282.1" y2="624.2" stroke="#3abf44" stroke-width="1.2" />
<line x1="280.4" y1="603.5" x2="283.8" y2="603.5" stroke="#3abf44" stroke-width="1.2" />
<line x1="280.4" y1="624.2" x2="283.8" y2="624.2" stroke="#3abf44" stroke-width="1.2" />
<line x1="313.2" y1="578.1" x2="313.2" y2="614.4" stroke="#3abf44" stroke-width="1.2" />
<line x1="311.5" y1="578.1" x2="314.9" y2="578.1" stroke="#3abf44" stroke-width="1.2" />
<line x1="311.5" y1="614.4" x2="314.9" y2="614.4" stroke="#3abf44" stroke-width="1.2" />
<line x1="344.2" y1="568.8" x2="344.2" y2="611.3" stroke="#3abf44" stroke-width="1.2" />
<line x1="342.6" y1="568.8" x2="345.9" y2="568.8" stroke="#3abf44" stroke-width="1.2" />
<line x1="342.6" y1="611.3" x2="345.9" y2="611.3" stroke="#3abf44" stroke-width="1.2" />
<line x1="375.3" y1="552.1" x2="375.3" y2="601.4" stroke="#3abf44" stroke-width="1.2" />
<line x1="373.6" y1="552.1" x2="377.0" y2="552.1" stroke="#3abf44" stroke-width="1.2" />
<line x1="373.6" y1="601.4" x2="377.0" y2="601.4" stroke="#3abf44" stroke-width="1.2" />
<line x1="406.4" y1="535.4" x2="406.4" y2="589.5" stroke="#3abf44" stroke-width="1.2" />
<line x1="404.7" y1="535.4" x2="408.1" y2="535.4" stroke="#3abf44" stroke-width="1.2" />
<line x1="404.7" y1="589.5" x2="408.1" y2="589.5" stroke="#3abf44" stroke-width="1.2" />
<line x1="437.4" y1="519.5" x2="437.4" y2="580.6" stroke="#3abf44" stroke-width="1.2" />
<line x1="435.7" y1="519.5" x2="439.1" y2="519.5" stroke="#3abf44" stroke-width="1.2" />
<line x1="435.7" y1="580.6" x2="439.1" y2="580.6" stroke="#3abf44" stroke-width="1.2" />
<line x1="69.1" y1="629.5" x2="69.1" y2="651.3" stroke="#26308a" stroke-width="1.2" />
<line x1="67.4" y1="629.5" x2="70.8" y2="629.5" stroke="#26308a" stroke-width="1.2" />
<line x1="67.4" y1="651.3" x2="70.8" y2="651.3" stroke="#26308a" stroke-width="1.2" />
<line x1="100.1" y1="650.4" x2="100.1" y2="655.3" stroke="#26308a" stroke-width="1.2" />
<line x1="98.4" y1="650.4" x2="101.8" y2="650.4" stroke="#26308a" stroke-width="1.2" />
<line x1="98.4" y1="655.3" x2="101.8" y2="655.3" stroke="#26308a" stroke-width="1.2" />
<line x1="131.2" y1="651.6" x2="131.2" y2="656.5" stroke="#26308a" stroke-width="1.2" />
<line x1="129.5" y1="651.6" x2="132.9" y2="651.6" stroke="#26308a" stroke-width="1.2" />
<line x1="129.5" y1="656.5" x2="132.9" y2="656.5" stroke="#26308a" stroke-width="1.2" />
<line x1="162.2" y1="647.8" x2="162.2" y2="660.3" stroke="#26308a" stroke-width="1.2" />
<line x1="160.6" y1="647.8" x2="163.9" y2="647.8" stroke="#26308a" stroke-width="1.2" />
<line x1="160.6" y1="660.3" x2="163.9" y2="660.3" stroke="#26308a" stroke-width="1.2" />
<line x1="193.3" y1="652.1" x2="193.3" y2="657.3" stroke="#26308a" stroke-width="1.2" />
<line x1="191.6" y1="652.1" x2="195.0" y2="652.1" stroke="#26308a" stroke-width="1.2" />
<line x1="191.6" y1="657.3" x2="195.0" y2="657.3" stroke="#26308a" stroke-width="1.2" />
<line x1="224.4" y1="647.5" x2="224.4" y2="654.4" stroke="#26308a" stroke-width="1.2" />
<line x1="222.7" y1="647.5" x2="226.1" y2="647.5" stroke="#26308a" stroke-width="1.2" />
<line x1="222.7" y1="654.4" x2="226.1" y2="654.4" stroke="#26308a" stroke-width="1.2" />
<line x1="255.4" y1="632.0" x2="255.4" y2="648.5" stroke="#26308a" stroke-width="1.2" />
<line x1="253.7" y1="632.0" x2="257.1" y2="632.0" stroke="#26308a" stroke-width="1.2" />
<line x1="253.7" y1="648.5" x2="257.1" y2="648.5" stroke="#26308a" stroke-width="1.2" />
<line x1="286.4" y1="623.2" x2="286.4" y2="646.6" stroke="#26308a" stroke-width="1.2" />
<line x1="284.8" y1="623.2" x2="288.1" y2="623.2" stroke="#26308a" stroke-width="1.2" />
<line x1="284.8" y1="646.6" x2="288.1" y2="646.6" stroke="#26308a" stroke-width="1.2" />
<line x1="317.5" y1="613.3" x2="317.5" y2="640.2" stroke="#26308a" stroke-width="1.2" />
<line x1="315.8" y1="613.3" x2="319.2" y2="613.3" stroke="#26308a" stroke-width="1.2" />
<line x1="315.8" y1="640.2" x2="319.2" y2="640.2" stroke="#26308a" stroke-width="1.2" />
<line x1="348.6" y1="599.9" x2="348.6" y2="636.1" stroke="#26308a" stroke-width="1.2" />
<line x1="346.9" y1="599.9" x2="350.2" y2="599.9" stroke="#26308a" stroke-width="1.2" />
<line x1="346.9" y1="636.1" x2="350.2" y2="636.1" stroke="#26308a" stroke-width="1.2" />
<line x1="379.6" y1="595.0" x2="379.6" y2="638.9" stroke="#26308a" stroke-width="1.2" />
<line x1="377.9" y1="595.0" x2="381.3" y2="595.0" stroke="#26308a" stroke-width="1.2" />
<line x1="377.9" y1="638.9" x2="381.3" y2="638.9" stroke="#26308a" stroke-width="1.2" />
<line x1="410.7" y1="592.6" x2="410.7" y2="637.5" stroke="#26308a" stroke-width="1.2" />
<line x1="409.0" y1="592.6" x2="412.4" y2="592.6" stroke="#26308a" stroke-width="1.2" />
<line x1="409.0" y1="637.5" x2="412.4" y2="637.5" stroke="#26308a" stroke-width="1.2" />
<line x1="441.7" y1="575.4" x2="441.7" y2="627.1" stroke="#26308a" stroke-width="1.2" />
<line x1="440.0" y1="575.4" x2="443.4" y2="575.4" stroke="#26308a" stroke-width="1.2" />
<line x1="440.0" y1="627.1" x2="443.4" y2="627.1" stroke="#26308a" stroke-width="1.2" />
<line x1="73.8" y1="637.1" x2="73.8" y2="647.5" stroke="#26308a" stroke-width="1.2" />
<line x1="72.1" y1="637.1" x2="75.5" y2="637.1" stroke="#26308a" stroke-width="1.2" />
<line x1="72.1" y1="647.5" x2="75.5" y2="647.5" stroke="#26308a" stroke-width="1.2" />
<line x1="104.8" y1="650.8" x2="104.8" y2="654.9" stroke="#26308a" stroke-width="1.2" />
<line x1="103.1" y1="650.8" x2="106.5" y2="650.8" stroke="#26308a" stroke-width="1.2" />
<line x1="103.1" y1="654.9" x2="106.5" y2="654.9" stroke="#26308a" stroke-width="1.2" />
<line x1="135.9" y1="652.0" x2="135.9" y2="655.4" stroke="#26308a" stroke-width="1.2" />
<line x1="134.2" y1="652.0" x2="137.6" y2="652.0" stroke="#26308a" stroke-width="1.2" />
<line x1="134.2" y1="655.4" x2="137.6" y2="655.4" stroke="#26308a" stroke-width="1.2" />
<line x1="166.9" y1="652.0" x2="166.9" y2="655.4" stroke="#26308a" stroke-width="1.2" />
<line x1="165.2" y1="652.0" x2="168.6" y2="652.0" stroke="#26308a" stroke-width="1.2" />
<line x1="165.2" y1="655.4" x2="168.6" y2="655.4" stroke="#26308a" stroke-width="1.2" />
<line x1="198.0" y1="650.6" x2="198.0" y2="654.0" stroke="#26308a" stroke-width="1.2" />
<line x1="196.3" y1="650.6" x2="199.7" y2="650.6" stroke="#26308a" stroke-width="1.2" />
<line x1="196.3" y1="654.0" x2="199.7" y2="654.0" stroke="#26308a" stroke-width="1.2" />
<line x1="229.1" y1="643.4" x2="229.1" y2="650.2" stroke="#26308a" stroke-width="1.2" />
<line x1="227.4" y1="643.4" x2="230.8" y2="643.4" stroke="#26308a" stroke-width="1.2" />
<line x1="227.4" y1="650.2" x2="230.8" y2="650.2" stroke="#26308a" stroke-width="1.2" />
<line x1="260.1" y1="628.7" x2="260.1" y2="642.5" stroke="#26308a" stroke-width="1.2" />
<line x1="258.4" y1="628.7" x2="261.8" y2="628.7" stroke="#26308a" stroke-width="1.2" />
<line x1="258.4" y1="642.5" x2="261.8" y2="642.5" stroke="#26308a" stroke-width="1.2" />
<line x1="291.1" y1="617.5" x2="291.1" y2="636.1" stroke="#26308a" stroke-width="1.2" />
<line x1="289.4" y1="617.5" x2="292.8" y2="617.5" stroke="#26308a" stroke-width="1.2" />
<line x1="289.4" y1="636.1" x2="292.8" y2="636.1" stroke="#26308a" stroke-width="1.2" />
<line x1="322.2" y1="612.5" x2="322.2" y2="634.2" stroke="#26308a" stroke-width="1.2" />
<line x1="320.5" y1="612.5" x2="323.9" y2="612.5" stroke="#26308a" stroke-width="1.2" />
<line x1="320.5" y1="634.2" x2="323.9" y2="634.2" stroke="#26308a" stroke-width="1.2" />
<line x1="353.2" y1="606.4" x2="353.2" y2="629.5" stroke="#26308a" stroke-width="1.2" />
<line x1="351.6" y1="606.4" x2="354.9" y2="606.4" stroke="#26308a" stroke-width="1.2" />
<line x1="351.6" y1="629.5" x2="354.9" y2="629.5" stroke="#26308a" stroke-width="1.2" />
<line x1="384.3" y1="604.0" x2="384.3" y2="630.9" stroke="#26308a" stroke-width="1.2" />
<line x1="382.6" y1="604.0" x2="386.0" y2="604.0" stroke="#26308a" stroke-width="1.2" />
<line x1="382.6" y1="630.9" x2="386.0" y2="630.9" stroke="#26308a" stroke-width="1.2" />
<line x1="415.4" y1="598.3" x2="415.4" y2="629.0" stroke="#26308a" stroke-width="1.2" />
<line x1="413.7" y1="598.3" x2="417.1" y2="598.3" stroke="#26308a" stroke-width="1.2" />
<line x1="413.7" y1="629.0" x2="417.1" y2="629.0" stroke="#26308a" stroke-width="1.2" />
<line x1="446.4" y1="588.7" x2="446.4" y2="628.7" stroke="#26308a" stroke-width="1.2" />
<line x1="444.7" y1="588.7" x2="448.1" y2="588.7" stroke="#26308a" stroke-width="1.2" />
<line x1="444.7" y1="628.7" x2="448.1" y2="628.7" stroke="#26308a" stroke-width="1.2" />
<line x1="67.8" y1="641.1" x2="67.8" y2="651.5" stroke="#e3121f" stroke-width="1.2" />
<line x1="66.1" y1="641.1" x2="69.5" y2="641.1" stroke="#e3121f" stroke-width="1.2" />
<line x1="66.1" y1="651.5" x2="69.5" y2="651.5" stroke="#e3121f" stroke-width="1.2" />
<line x1="98.8" y1="653.2" x2="98.8" y2="658.4" stroke="#e3121f" stroke-width="1.2" />
<line x1="97.1" y1="653.2" x2="100.5" y2="653.2" stroke="#e3121f" stroke-width="1.2" />
<line x1="97.1" y1="658.4" x2="100.5" y2="658.4" stroke="#e3121f" stroke-width="1.2" />
<line x1="129.9" y1="653.7" x2="129.9" y2="657.8" stroke="#e3121f" stroke-width="1.2" />
<line x1="128.2" y1="653.7" x2="131.6" y2="653.7" stroke="#e3121f" stroke-width="1.2" />
<line x1="128.2" y1="657.8" x2="131.6" y2="657.8" stroke="#e3121f" stroke-width="1.2" />
<line x1="160.9" y1="653.7" x2="160.9" y2="657.8" stroke="#e3121f" stroke-width="1.2" />
<line x1="159.2" y1="653.7" x2="162.6" y2="653.7" stroke="#e3121f" stroke-width="1.2" />
<line x1="159.2" y1="657.8" x2="162.6" y2="657.8" stroke="#e3121f" stroke-width="1.2" />
<line x1="192.0" y1="648.4" x2="192.0" y2="652.5" stroke="#e3121f" stroke-width="1.2" />
<line x1="190.3" y1="648.4" x2="193.7" y2="648.4" stroke="#e3121f" stroke-width="1.2" />
<line x1="190.3" y1="652.5" x2="193.7" y2="652.5" stroke="#e3121f" stroke-width="1.2" />
<line x1="223.1" y1="609.2" x2="223.1" y2="629.9" stroke="#e3121f" stroke-width="1.2" />
<line x1="221.4" y1="609.2" x2="224.8" y2="609.2" stroke="#e3121f" stroke-width="1.2" />
<line x1="221.4" y1="629.9" x2="224.8" y2="629.9" stroke="#e3121f" stroke-width="1.2" />
<line x1="254.1" y1="532.3" x2="254.1" y2="578.8" stroke="#e3121f" stroke-width="1.2" />
<line x1="252.4" y1="532.3" x2="255.8" y2="532.3" stroke="#e3121f" stroke-width="1.2" />
<line x1="252.4" y1="578.8" x2="255.8" y2="578.8" stroke="#e3121f" stroke-width="1.2" />
<line x1="285.1" y1="482.9" x2="285.1" y2="522.9" stroke="#e3121f" stroke-width="1.2" />
<line x1="283.4" y1="482.9" x2="286.8" y2="482.9" stroke="#e3121f" stroke-width="1.2" />
<line x1="283.4" y1="522.9" x2="286.8" y2="522.9" stroke="#e3121f" stroke-width="1.2" />
<line x1="316.2" y1="462.4" x2="316.2" y2="492.8" stroke="#e3121f" stroke-width="1.2" />
<line x1="314.5" y1="462.4" x2="317.9" y2="462.4" stroke="#e3121f" stroke-width="1.2" />
<line x1="314.5" y1="492.8" x2="317.9" y2="492.8" stroke="#e3121f" stroke-width="1.2" />
<line x1="347.2" y1="428.1" x2="347.2" y2="469.5" stroke="#e3121f" stroke-width="1.2" />
<line x1="345.6" y1="428.1" x2="348.9" y2="428.1" stroke="#e3121f" stroke-width="1.2" />
<line x1="345.6" y1="469.5" x2="348.9" y2="469.5" stroke="#e3121f" stroke-width="1.2" />
<line x1="378.3" y1="443.6" x2="378.3" y2="480.5" stroke="#e3121f" stroke-width="1.2" />
<line x1="376.6" y1="443.6" x2="380.0" y2="443.6" stroke="#e3121f" stroke-width="1.2" />
<line x1="376.6" y1="480.5" x2="380.0" y2="480.5" stroke="#e3121f" stroke-width="1.2" />
<line x1="409.4" y1="434.1" x2="409.4" y2="478.3" stroke="#e3121f" stroke-width="1.2" />
<line x1="407.7" y1="434.1" x2="411.1" y2="434.1" stroke="#e3121f" stroke-width="1.2" />
<line x1="407.7" y1="478.3" x2="411.1" y2="478.3" stroke="#e3121f" stroke-width="1.2" />
<line x1="440.4" y1="431.7" x2="440.4" y2="480.7" stroke="#e3121f" stroke-width="1.2" />
<line x1="438.7" y1="431.7" x2="442.1" y2="431.7" stroke="#e3121f" stroke-width="1.2" />
<line x1="438.7" y1="480.7" x2="442.1" y2="480.7" stroke="#e3121f" stroke-width="1.2" />
<line x1="68.3" y1="644.2" x2="68.3" y2="651.1" stroke="#e3121f" stroke-width="1.2" />
<line x1="66.6" y1="644.2" x2="70.0" y2="644.2" stroke="#e3121f" stroke-width="1.2" />
<line x1="66.6" y1="651.1" x2="70.0" y2="651.1" stroke="#e3121f" stroke-width="1.2" />
<line x1="99.3" y1="655.1" x2="99.3" y2="658.5" stroke="#e3121f" stroke-width="1.2" />
<line x1="97.6" y1="655.1" x2="101.0" y2="655.1" stroke="#e3121f" stroke-width="1.2" />
<line x1="97.6" y1="658.5" x2="101.0" y2="658.5" stroke="#e3121f" stroke-width="1.2" />
<line x1="130.4" y1="655.1" x2="130.4" y2="658.5" stroke="#e3121f" stroke-width="1.2" />
<line x1="128.7" y1="655.1" x2="132.1" y2="655.1" stroke="#e3121f" stroke-width="1.2" />
<line x1="128.7" y1="658.5" x2="132.1" y2="658.5" stroke="#e3121f" stroke-width="1.2" />
<line x1="161.4" y1="655.1" x2="161.4" y2="658.5" stroke="#e3121f" stroke-width="1.2" />
<line x1="159.8" y1="655.1" x2="163.1" y2="655.1" stroke="#e3121f" stroke-width="1.2" />
<line x1="159.8" y1="658.5" x2="163.1" y2="658.5" stroke="#e3121f" stroke-width="1.2" />
<line x1="192.5" y1="651.1" x2="192.5" y2="654.6" stroke="#e3121f" stroke-width="1.2" />
<line x1="190.8" y1="651.1" x2="194.2" y2="651.1" stroke="#e3121f" stroke-width="1.2" />
<line x1="190.8" y1="654.6" x2="194.2" y2="654.6" stroke="#e3121f" stroke-width="1.2" />
<line x1="223.6" y1="643.2" x2="223.6" y2="648.4" stroke="#e3121f" stroke-width="1.2" />
<line x1="221.9" y1="643.2" x2="225.2" y2="643.2" stroke="#e3121f" stroke-width="1.2" />
<line x1="221.9" y1="648.4" x2="225.2" y2="648.4" stroke="#e3121f" stroke-width="1.2" />
<line x1="254.6" y1="619.4" x2="254.6" y2="632.8" stroke="#e3121f" stroke-width="1.2" />
<line x1="252.9" y1="619.4" x2="256.3" y2="619.4" stroke="#e3121f" stroke-width="1.2" />
<line x1="252.9" y1="632.8" x2="256.3" y2="632.8" stroke="#e3121f" stroke-width="1.2" />
<line x1="285.6" y1="585.6" x2="285.6" y2="604.5" stroke="#e3121f" stroke-width="1.2" />
<line x1="283.9" y1="585.6" x2="287.3" y2="585.6" stroke="#e3121f" stroke-width="1.2" />
<line x1="283.9" y1="604.5" x2="287.3" y2="604.5" stroke="#e3121f" stroke-width="1.2" />
<line x1="316.7" y1="555.0" x2="316.7" y2="577.5" stroke="#e3121f" stroke-width="1.2" />
<line x1="315.0" y1="555.0" x2="318.4" y2="555.0" stroke="#e3121f" stroke-width="1.2" />
<line x1="315.0" y1="577.5" x2="318.4" y2="577.5" stroke="#e3121f" stroke-width="1.2" />
<line x1="347.8" y1="542.6" x2="347.8" y2="565.0" stroke="#e3121f" stroke-width="1.2" />
<line x1="346.1" y1="542.6" x2="349.4" y2="542.6" stroke="#e3121f" stroke-width="1.2" />
<line x1="346.1" y1="565.0" x2="349.4" y2="565.0" stroke="#e3121f" stroke-width="1.2" />
<line x1="378.8" y1="529.2" x2="378.8" y2="556.8" stroke="#e3121f" stroke-width="1.2" />
<line x1="377.1" y1="529.2" x2="380.5" y2="529.2" stroke="#e3121f" stroke-width="1.2" />
<line x1="377.1" y1="556.8" x2="380.5" y2="556.8" stroke="#e3121f" stroke-width="1.2" />
<line x1="409.9" y1="522.6" x2="409.9" y2="551.2" stroke="#e3121f" stroke-width="1.2" />
<line x1="408.2" y1="522.6" x2="411.6" y2="522.6" stroke="#e3121f" stroke-width="1.2" />
<line x1="408.2" y1="551.2" x2="411.6" y2="551.2" stroke="#e3121f" stroke-width="1.2" />
<line x1="440.9" y1="510.2" x2="440.9" y2="544.7" stroke="#e3121f" stroke-width="1.2" />
<line x1="439.2" y1="510.2" x2="442.6" y2="510.2" stroke="#e3121f" stroke-width="1.2" />
<line x1="439.2" y1="544.7" x2="442.6" y2="544.7" stroke="#e3121f" stroke-width="1.2" />
<path d="M60.1,648.9 L62.5,653.1 L57.7,653.1Z" fill="#3abf44" stroke="#3abf44" stroke-width="1"/>
<path d="M91.1,658.2 L93.5,662.4 L88.7,662.4Z" fill="#3abf44" stroke="#3abf44" stroke-width="1"/>
<path d="M122.2,660.1 L124.6,664.3 L119.8,664.3Z" fill="#3abf44" stroke="#3abf44" stroke-width="1"/>
<path d="M153.2,660.1 L155.7,664.3 L150.8,664.3Z" fill="#3abf44" stroke="#3abf44" stroke-width="1"/>
<path d="M184.3,661.1 L186.7,665.3 L181.9,665.3Z" fill="#3abf44" stroke="#3abf44" stroke-width="1"/>
<path d="M215.4,655.3 L217.8,659.5 L213.0,659.5Z" fill="#3abf44" stroke="#3abf44" stroke-width="1"/>
<path d="M246.4,645.1 L248.8,649.3 L244.0,649.3Z" fill="#3abf44" stroke="#3abf44" stroke-width="1"/>
<path d="M277.4,624.9 L279.8,629.1 L275.1,629.1Z" fill="#3abf44" stroke="#3abf44" stroke-width="1"/>
<path d="M308.5,602.0 L310.9,606.2 L306.1,606.2Z" fill="#3abf44" stroke="#3abf44" stroke-width="1"/>
<path d="M339.6,576.4 L341.9,580.6 L337.2,580.6Z" fill="#3abf44" stroke="#3abf44" stroke-width="1"/>
<path d="M370.6,561.4 L373.0,565.6 L368.2,565.6Z" fill="#3abf44" stroke="#3abf44" stroke-width="1"/>
<path d="M401.7,540.6 L404.1,544.8 L399.3,544.8Z" fill="#3abf44" stroke="#3abf44" stroke-width="1"/>
<path d="M432.7,548.3 L435.1,552.5 L430.3,552.5Z" fill="#3abf44" stroke="#3abf44" stroke-width="1"/>
<path d="M64.8,656.8 L67.2,661.0 L62.4,661.0Z" fill="#fff" stroke="#3abf44" stroke-width="1"/>
<path d="M95.8,662.0 L98.2,666.2 L93.4,666.2Z" fill="#fff" stroke="#3abf44" stroke-width="1"/>
<path d="M126.9,662.0 L129.3,666.2 L124.5,666.2Z" fill="#fff" stroke="#3abf44" stroke-width="1"/>
<path d="M157.9,662.7 L160.3,666.9 L155.5,666.9Z" fill="#fff" stroke="#3abf44" stroke-width="1"/>
<path d="M189.0,661.1 L191.4,665.3 L186.6,665.3Z" fill="#fff" stroke="#3abf44" stroke-width="1"/>
<path d="M220.1,651.3 L222.5,655.5 L217.7,655.5Z" fill="#fff" stroke="#3abf44" stroke-width="1"/>
<path d="M251.1,634.2 L253.5,638.4 L248.7,638.4Z" fill="#fff" stroke="#3abf44" stroke-width="1"/>
<path d="M282.1,611.5 L284.5,615.7 L279.8,615.7Z" fill="#fff" stroke="#3abf44" stroke-width="1"/>
<path d="M313.2,593.9 L315.6,598.1 L310.8,598.1Z" fill="#fff" stroke="#3abf44" stroke-width="1"/>
<path d="M344.2,587.6 L346.6,591.8 L341.9,591.8Z" fill="#fff" stroke="#3abf44" stroke-width="1"/>
<path d="M375.3,574.4 L377.7,578.6 L372.9,578.6Z" fill="#fff" stroke="#3abf44" stroke-width="1"/>
<path d="M406.4,560.0 L408.8,564.2 L404.0,564.2Z" fill="#fff" stroke="#3abf44" stroke-width="1"/>
<path d="M437.4,547.6 L439.8,551.8 L435.0,551.8Z" fill="#fff" stroke="#3abf44" stroke-width="1"/>
<path d="M69.1,642.8 L71.5,638.6 L66.7,638.6Z" fill="#26308a" stroke="#26308a" stroke-width="1"/>
<path d="M100.1,655.2 L102.5,651.0 L97.7,651.0Z" fill="#26308a" stroke="#26308a" stroke-width="1"/>
<path d="M131.2,656.4 L133.6,652.2 L128.8,652.2Z" fill="#26308a" stroke="#26308a" stroke-width="1"/>
<path d="M162.2,656.4 L164.7,652.2 L159.8,652.2Z" fill="#26308a" stroke="#26308a" stroke-width="1"/>
<path d="M193.3,657.1 L195.7,652.9 L190.9,652.9Z" fill="#26308a" stroke="#26308a" stroke-width="1"/>
<path d="M224.4,653.3 L226.8,649.1 L222.0,649.1Z" fill="#26308a" stroke="#26308a" stroke-width="1"/>
<path d="M255.4,642.6 L257.8,638.4 L253.0,638.4Z" fill="#26308a" stroke="#26308a" stroke-width="1"/>
<path d="M286.4,637.3 L288.8,633.1 L284.1,633.1Z" fill="#26308a" stroke="#26308a" stroke-width="1"/>
<path d="M317.5,629.2 L319.9,625.0 L315.1,625.0Z" fill="#26308a" stroke="#26308a" stroke-width="1"/>
<path d="M348.6,620.4 L350.9,616.2 L346.2,616.2Z" fill="#26308a" stroke="#26308a" stroke-width="1"/>
<path d="M379.6,619.4 L382.0,615.2 L377.2,615.2Z" fill="#26308a" stroke="#26308a" stroke-width="1"/>
<path d="M410.7,617.5 L413.1,613.3 L408.3,613.3Z" fill="#26308a" stroke="#26308a" stroke-width="1"/>
<path d="M441.7,603.7 L444.1,599.5 L439.3,599.5Z" fill="#26308a" stroke="#26308a" stroke-width="1"/>
<path d="M73.8,644.7 L76.2,640.5 L71.4,640.5Z" fill="#fff" stroke="#26308a" stroke-width="1"/>
<path d="M104.8,655.2 L107.2,651.0 L102.4,651.0Z" fill="#fff" stroke="#26308a" stroke-width="1"/>
<path d="M135.9,656.1 L138.3,651.9 L133.5,651.9Z" fill="#fff" stroke="#26308a" stroke-width="1"/>
<path d="M166.9,656.1 L169.3,651.9 L164.5,651.9Z" fill="#fff" stroke="#26308a" stroke-width="1"/>
<path d="M198.0,654.7 L200.4,650.5 L195.6,650.5Z" fill="#fff" stroke="#26308a" stroke-width="1"/>
<path d="M229.1,649.2 L231.5,645.0 L226.7,645.0Z" fill="#fff" stroke="#26308a" stroke-width="1"/>
<path d="M260.1,638.0 L262.5,633.8 L257.7,633.8Z" fill="#fff" stroke="#26308a" stroke-width="1"/>
<path d="M291.1,629.2 L293.5,625.0 L288.8,625.0Z" fill="#fff" stroke="#26308a" stroke-width="1"/>
<path d="M322.2,625.7 L324.6,621.5 L319.8,621.5Z" fill="#fff" stroke="#26308a" stroke-width="1"/>
<path d="M353.2,620.4 L355.6,616.2 L350.9,616.2Z" fill="#fff" stroke="#26308a" stroke-width="1"/>
<path d="M384.3,619.9 L386.7,615.7 L381.9,615.7Z" fill="#fff" stroke="#26308a" stroke-width="1"/>
<path d="M415.4,616.1 L417.8,611.9 L413.0,611.9Z" fill="#fff" stroke="#26308a" stroke-width="1"/>
<path d="M446.4,611.1 L448.8,606.9 L444.0,606.9Z" fill="#fff" stroke="#26308a" stroke-width="1"/>
<circle cx="67.8" cy="646.3" r="2.00" fill="#e3121f" stroke="#e3121f" stroke-width="1"/>
<circle cx="98.8" cy="655.8" r="2.00" fill="#e3121f" stroke="#e3121f" stroke-width="1"/>
<circle cx="129.9" cy="655.8" r="2.00" fill="#e3121f" stroke="#e3121f" stroke-width="1"/>
<circle cx="160.9" cy="655.8" r="2.00" fill="#e3121f" stroke="#e3121f" stroke-width="1"/>
<circle cx="192.0" cy="650.4" r="2.00" fill="#e3121f" stroke="#e3121f" stroke-width="1"/>
<circle cx="223.1" cy="619.5" r="2.00" fill="#e3121f" stroke="#e3121f" stroke-width="1"/>
<circle cx="254.1" cy="555.5" r="2.00" fill="#e3121f" stroke="#e3121f" stroke-width="1"/>
<circle cx="285.1" cy="502.9" r="2.00" fill="#e3121f" stroke="#e3121f" stroke-width="1"/>
<circle cx="316.2" cy="477.6" r="2.00" fill="#e3121f" stroke="#e3121f" stroke-width="1"/>
<circle cx="347.2" cy="448.8" r="2.00" fill="#e3121f" stroke="#e3121f" stroke-width="1"/>
<circle cx="378.3" cy="462.1" r="2.00" fill="#e3121f" stroke="#e3121f" stroke-width="1"/>
<circle cx="409.4" cy="456.2" r="2.00" fill="#e3121f" stroke="#e3121f" stroke-width="1"/>
<circle cx="440.4" cy="456.2" r="2.00" fill="#e3121f" stroke="#e3121f" stroke-width="1"/>
<circle cx="68.3" cy="647.7" r="1.90" fill="#fff" stroke="#e3121f" stroke-width="1"/>
<circle cx="99.3" cy="656.8" r="1.90" fill="#fff" stroke="#e3121f" stroke-width="1"/>
<circle cx="130.4" cy="656.8" r="1.90" fill="#fff" stroke="#e3121f" stroke-width="1"/>
<circle cx="161.4" cy="656.8" r="1.90" fill="#fff" stroke="#e3121f" stroke-width="1"/>
<circle cx="192.5" cy="652.8" r="1.90" fill="#fff" stroke="#e3121f" stroke-width="1"/>
<circle cx="223.6" cy="645.8" r="1.90" fill="#fff" stroke="#e3121f" stroke-width="1"/>
<circle cx="254.6" cy="626.1" r="1.90" fill="#fff" stroke="#e3121f" stroke-width="1"/>
<circle cx="285.6" cy="595.0" r="1.90" fill="#fff" stroke="#e3121f" stroke-width="1"/>
<circle cx="316.7" cy="566.2" r="1.90" fill="#fff" stroke="#e3121f" stroke-width="1"/>
<circle cx="347.8" cy="553.8" r="1.90" fill="#fff" stroke="#e3121f" stroke-width="1"/>
<circle cx="378.8" cy="543.0" r="1.90" fill="#fff" stroke="#e3121f" stroke-width="1"/>
<circle cx="409.9" cy="536.9" r="1.90" fill="#fff" stroke="#e3121f" stroke-width="1"/>
<circle cx="440.9" cy="527.4" r="1.90" fill="#fff" stroke="#e3121f" stroke-width="1"/>
<path d="M223.05,636.60L223.05,632.90M223.05,636.60L226.57,635.46M223.05,636.60L225.22,639.59M223.05,636.60L220.88,639.59M223.05,636.60L219.53,635.46" stroke="#e3121f" stroke-width="1.9" fill="none"/>
<path d="M249.60,603.00L249.60,599.30M249.60,603.00L253.12,601.86M249.60,603.00L251.77,605.99M249.60,603.00L247.43,605.99M249.60,603.00L246.08,601.86" stroke="#e3121f" stroke-width="1.9" fill="none"/>
<path d="M258.60,603.00L258.60,599.30M258.60,603.00L262.12,601.86M258.60,603.00L260.77,605.99M258.60,603.00L256.43,605.99M258.60,603.00L255.08,601.86" stroke="#e3121f" stroke-width="1.9" fill="none"/>
<path d="M280.65,558.00L280.65,554.30M280.65,558.00L284.17,556.86M280.65,558.00L282.82,560.99M280.65,558.00L278.48,560.99M280.65,558.00L277.13,556.86" stroke="#e3121f" stroke-width="1.9" fill="none"/>
<path d="M289.65,558.00L289.65,554.30M289.65,558.00L293.17,556.86M289.65,558.00L291.82,560.99M289.65,558.00L287.48,560.99M289.65,558.00L286.13,556.86" stroke="#e3121f" stroke-width="1.9" fill="none"/>
<path d="M311.70,527.00L311.70,523.30M311.70,527.00L315.22,525.86M311.70,527.00L313.87,529.99M311.70,527.00L309.53,529.99M311.70,527.00L308.18,525.86" stroke="#e3121f" stroke-width="1.9" fill="none"/>
<path d="M320.70,527.00L320.70,523.30M320.70,527.00L324.22,525.86M320.70,527.00L322.87,529.99M320.70,527.00L318.53,529.99M320.70,527.00L317.18,525.86" stroke="#e3121f" stroke-width="1.9" fill="none"/>
<path d="M342.75,514.50L342.75,510.80M342.75,514.50L346.27,513.36M342.75,514.50L344.92,517.49M342.75,514.50L340.58,517.49M342.75,514.50L339.23,513.36" stroke="#e3121f" stroke-width="1.9" fill="none"/>
<path d="M351.75,514.50L351.75,510.80M351.75,514.50L355.27,513.36M351.75,514.50L353.92,517.49M351.75,514.50L349.58,517.49M351.75,514.50L348.23,513.36" stroke="#e3121f" stroke-width="1.9" fill="none"/>
<path d="M373.80,507.50L373.80,503.80M373.80,507.50L377.32,506.36M373.80,507.50L375.97,510.49M373.80,507.50L371.63,510.49M373.80,507.50L370.28,506.36" stroke="#e3121f" stroke-width="1.9" fill="none"/>
<path d="M382.80,507.50L382.80,503.80M382.80,507.50L386.32,506.36M382.80,507.50L384.97,510.49M382.80,507.50L380.63,510.49M382.80,507.50L379.28,506.36" stroke="#e3121f" stroke-width="1.9" fill="none"/>
<path d="M409.35,492.50L409.35,488.80M409.35,492.50L412.87,491.36M409.35,492.50L411.52,495.49M409.35,492.50L407.18,495.49M409.35,492.50L405.83,491.36" stroke="#e3121f" stroke-width="1.9" fill="none"/>
<path d="M440.40,492.00L440.40,488.30M440.40,492.00L443.92,490.86M440.40,492.00L442.57,494.99M440.40,492.00L438.23,494.99M440.40,492.00L436.88,490.86" stroke="#e3121f" stroke-width="1.9" fill="none"/>
<rect x="67" y="473.5" width="142.8" height="125" fill="#fff" stroke="#000" stroke-width="2"/>
<line x1="67.0" y1="507.8" x2="209.8" y2="507.8" stroke="#000" stroke-width="2" />
<line x1="67.0" y1="565.3" x2="209.8" y2="565.3" stroke="#000" stroke-width="2" />
<text x="125.6" y="488.2" font-size="12" font-weight="normal" text-anchor="middle" fill="#1a1a1a" stroke="#1a1a1a" stroke-width="0.35" >HIT</text>
<text x="125.6" y="502.3" font-size="12" font-weight="normal" text-anchor="middle" fill="#1a1a1a" stroke="#1a1a1a" stroke-width="0.35" >(n=12)</text>
<text x="178.6" y="488.2" font-size="12" font-weight="normal" text-anchor="middle" fill="#1a1a1a" stroke="#1a1a1a" stroke-width="0.35" >Non-HIT</text>
<text x="178.6" y="502.3" font-size="12" font-weight="normal" text-anchor="middle" fill="#1a1a1a" stroke="#1a1a1a" stroke-width="0.35" >(n=36)</text>
<text x="76.4" y="521.4" font-size="12" font-weight="normal" text-anchor="start" fill="#1a1a1a" stroke="#1a1a1a" stroke-width="0.35" >IgG</text>
<line x1="110.6" y1="517.8" x2="140.0" y2="517.8" stroke="#e3121f" stroke-width="1.5" />
<circle cx="125.3" cy="517.8" r="3.50" fill="#e3121f" stroke="#e3121f" stroke-width="1"/>
<line x1="164.0" y1="517.8" x2="170.2" y2="517.8" stroke="#e3121f" stroke-width="1.5" />
<line x1="185.6" y1="517.8" x2="192.0" y2="517.8" stroke="#e3121f" stroke-width="1.5" />
<circle cx="177.5" cy="517.8" r="3.32" fill="#fff" stroke="#e3121f" stroke-width="1"/>
<text x="76.4" y="538.9" font-size="12" font-weight="normal" text-anchor="start" fill="#1a1a1a" stroke="#1a1a1a" stroke-width="0.35" >IgA</text>
<line x1="110.6" y1="535.2" x2="140.0" y2="535.2" stroke="#3abf44" stroke-width="1.5" />
<path d="M125.3,531.6 L128.9,537.9 L121.7,537.9Z" fill="#3abf44" stroke="#3abf44" stroke-width="1"/>
<line x1="164.0" y1="535.2" x2="170.2" y2="535.2" stroke="#3abf44" stroke-width="1.5" />
<line x1="185.6" y1="535.2" x2="192.0" y2="535.2" stroke="#3abf44" stroke-width="1.5" />
<path d="M177.5,531.6 L181.1,537.9 L173.9,537.9Z" fill="#fff" stroke="#3abf44" stroke-width="1"/>
<text x="76.4" y="556.3" font-size="12" font-weight="normal" text-anchor="start" fill="#1a1a1a" stroke="#1a1a1a" stroke-width="0.35" >IgM</text>
<line x1="110.6" y1="553.2" x2="140.0" y2="553.2" stroke="#26308a" stroke-width="1.5" />
<path d="M125.3,556.8 L128.9,550.5 L121.7,550.5Z" fill="#26308a" stroke="#26308a" stroke-width="1"/>
<line x1="164.0" y1="553.2" x2="170.2" y2="553.2" stroke="#26308a" stroke-width="1.5" />
<line x1="185.6" y1="553.2" x2="192.0" y2="553.2" stroke="#26308a" stroke-width="1.5" />
<path d="M177.5,556.8 L181.1,550.5 L173.9,550.5Z" fill="#fff" stroke="#26308a" stroke-width="1"/>
<text x="77.2" y="579.5" font-size="12" font-weight="normal" text-anchor="start" fill="#1a1a1a" stroke="#1a1a1a" stroke-width="0.35" >HIT vs. Non-HIT</text>
<path d="M81.40,589.00L81.40,585.20M81.40,589.00L85.01,587.83M81.40,589.00L83.63,592.07M81.40,589.00L79.17,592.07M81.40,589.00L77.79,587.83" stroke="#e3121f" stroke-width="1.9" fill="none"/>
<path d="M90.80,589.00L90.80,585.20M90.80,589.00L94.41,587.83M90.80,589.00L93.03,592.07M90.80,589.00L88.57,592.07M90.80,589.00L87.19,587.83" stroke="#e3121f" stroke-width="1.9" fill="none"/>
<text x="98.8" y="592.3" font-size="12.2" font-weight="normal" text-anchor="start" fill="#1a1a1a" stroke="#1a1a1a" stroke-width="0.35" >P&lt;0.005,</text>
<path d="M154.60,589.00L154.60,585.20M154.60,589.00L158.21,587.83M154.60,589.00L156.83,592.07M154.60,589.00L152.37,592.07M154.60,589.00L150.99,587.83" stroke="#e3121f" stroke-width="1.9" fill="none"/>
<text x="161.6" y="592.3" font-size="12.3" font-weight="normal" text-anchor="start" fill="#1a1a1a" stroke="#1a1a1a" stroke-width="0.35" >P&lt;0.05</text>
</svg>
</body></html>
